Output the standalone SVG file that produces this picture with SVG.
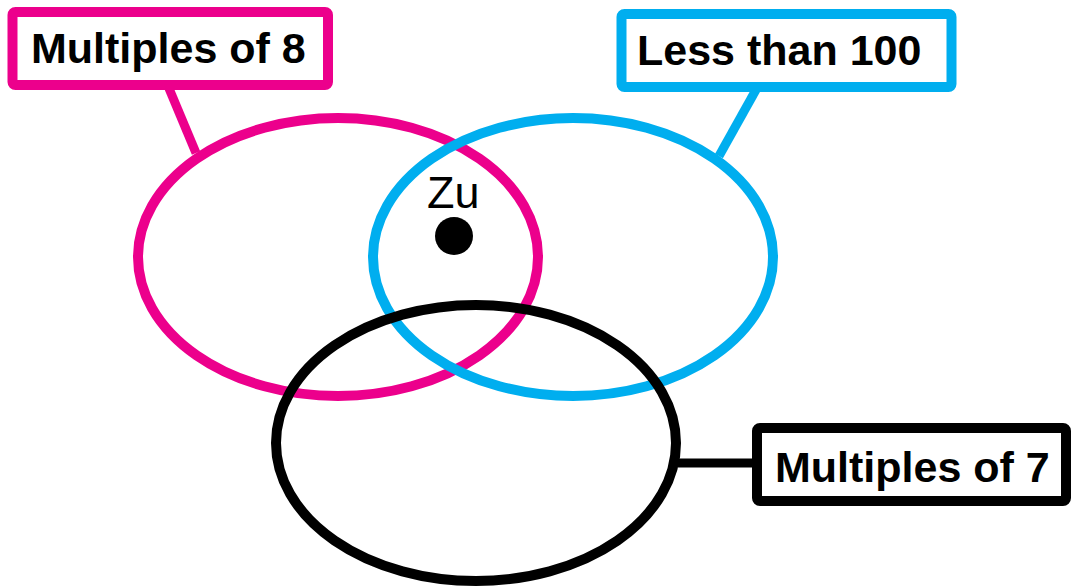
<svg xmlns="http://www.w3.org/2000/svg" width="1071" height="587" viewBox="0 0 1071 587">
<style>
.lbl{font-family:"Liberation Sans",Arial,sans-serif;font-weight:bold;font-size:43px;fill:#000}
.box{fill:#fff;stroke-width:10}
.set{fill:none;stroke-width:10}
.pink{stroke:#EC008C}
.blue{stroke:#00AEEF}
.blk{stroke:#000}
.conn{stroke-width:9;fill:none}
</style>
<rect width="1071" height="587" fill="#fff"/>
<g id="connectors">
<line class="conn pink" x1="168" y1="86" x2="196" y2="153"/>
<line class="conn blue" x1="757" y1="88" x2="719" y2="156"/>
<line class="conn blk" x1="678" y1="463" x2="754" y2="463"/>
</g>
<g id="set-multiples-8"><ellipse class="set pink" cx="338" cy="257" rx="200" ry="139"/></g>
<g id="set-less-100"><ellipse class="set blue" cx="573" cy="257" rx="200" ry="139"/></g>
<g id="set-multiples-7"><ellipse class="set blk" cx="476" cy="443" rx="200" ry="138"/></g>
<g id="label-multiples-8">
<rect class="box pink" x="12.5" y="12" width="315.5" height="73" rx="3"/>
<text class="lbl" x="31" y="63">Multiples of 8</text>
</g>
<g id="label-less-100">
<rect class="box blue" x="621.5" y="14" width="330" height="73" rx="3"/>
<text class="lbl" x="637" y="65">Less than 100</text>
</g>
<g id="label-multiples-7">
<rect class="box blk" x="757" y="428" width="309" height="73" rx="3"/>
<text class="lbl" x="775" y="482">Multiples of 7</text>
</g>
<g id="zu">
<text x="427" y="208" style="font-family:'Liberation Sans',Arial,sans-serif;font-size:45px;fill:#000">Zu</text>
<circle cx="454" cy="236" r="19" fill="#000"/>
</g>
</svg>
